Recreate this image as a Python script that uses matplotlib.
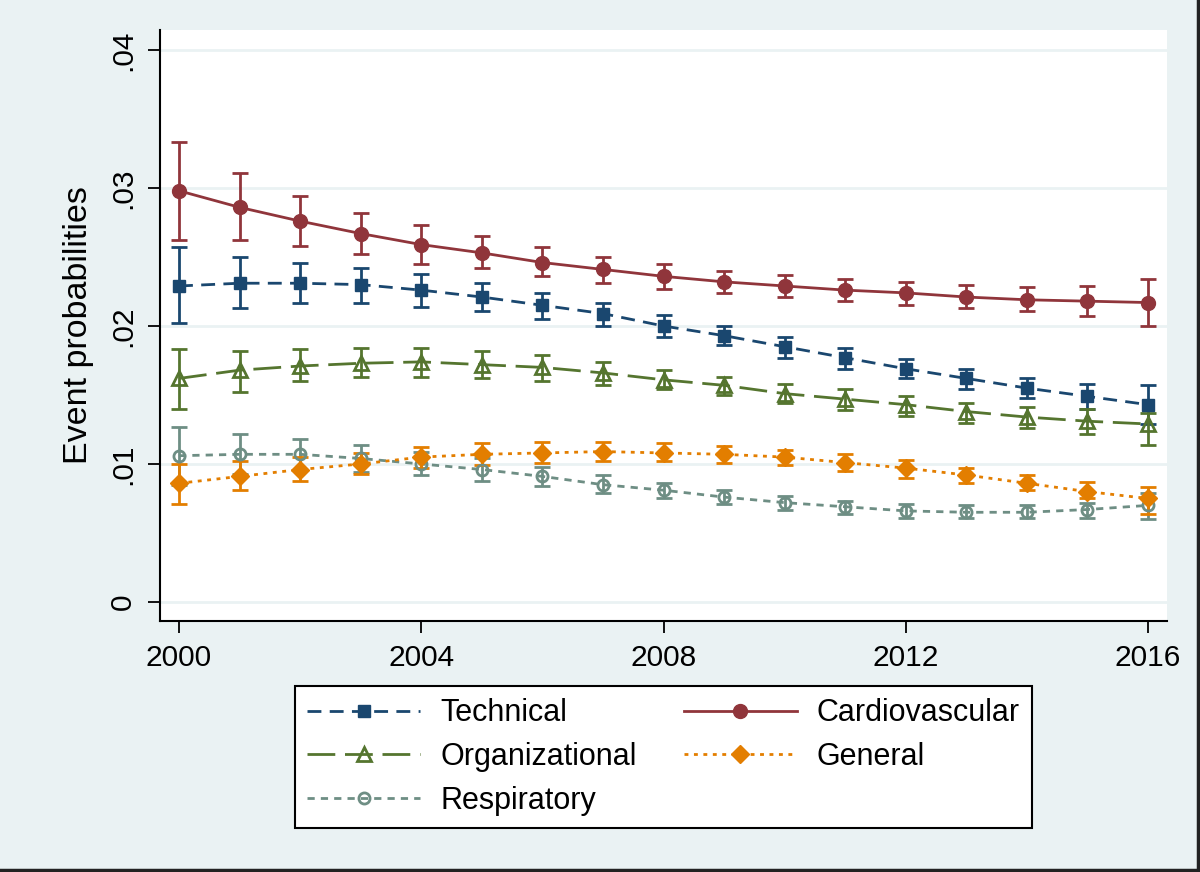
#!/usr/bin/env python3
"""
Predicted event probabilities by year (2000-2016) with 95% CIs,
five event categories, Stata s2color look.
"""
import numpy as np
import matplotlib
matplotlib.use("Agg")
import matplotlib.pyplot as plt
from matplotlib.lines import Line2D

years = list(range(2000, 2017))

cardio    = [0.0298, 0.0286, 0.0276, 0.0267, 0.0259, 0.0253, 0.0246, 0.0241, 0.0236,
             0.0232, 0.0229, 0.0226, 0.0224, 0.0221, 0.0219, 0.0218, 0.0217]
cardio_lo = [0.0262, 0.0262, 0.0258, 0.0252, 0.0245, 0.0242, 0.0236, 0.0231, 0.0227,
             0.0224, 0.0221, 0.0218, 0.0215, 0.0213, 0.0211, 0.0207, 0.0200]
cardio_hi = [0.0333, 0.0311, 0.0294, 0.0282, 0.0273, 0.0265, 0.0257, 0.0250, 0.0245,
             0.0240, 0.0237, 0.0234, 0.0232, 0.0230, 0.0228, 0.0229, 0.0234]

tech    = [0.0229, 0.0231, 0.0231, 0.0230, 0.0226, 0.0221, 0.0215, 0.0209, 0.0200,
           0.0193, 0.0185, 0.0177, 0.0169, 0.0162, 0.0155, 0.0149, 0.0143]
tech_lo = [0.0202, 0.0213, 0.0217, 0.0217, 0.0214, 0.0211, 0.0205, 0.0200, 0.0192,
           0.0186, 0.0177, 0.0169, 0.0162, 0.0154, 0.0148, 0.0140, 0.0129]
tech_hi = [0.0257, 0.0250, 0.0246, 0.0242, 0.0238, 0.0231, 0.0224, 0.0217, 0.0208,
           0.0200, 0.0192, 0.0184, 0.0176, 0.0169, 0.0162, 0.0158, 0.0157]

org    = [0.0162, 0.0168, 0.0171, 0.0173, 0.0174, 0.0172, 0.0170, 0.0166, 0.0161,
          0.0157, 0.0151, 0.0147, 0.0143, 0.0138, 0.0134, 0.0131, 0.0129]
org_lo = [0.0140, 0.0152, 0.0160, 0.0163, 0.0163, 0.0162, 0.0160, 0.0157, 0.0154,
          0.0150, 0.0144, 0.0139, 0.0135, 0.0130, 0.0126, 0.0122, 0.0114]
org_hi = [0.0183, 0.0182, 0.0183, 0.0184, 0.0184, 0.0182, 0.0179, 0.0174, 0.0168,
          0.0163, 0.0158, 0.0154, 0.0149, 0.0144, 0.0141, 0.0140, 0.0137]

gen    = [0.0086, 0.0091, 0.0096, 0.0100, 0.0105, 0.0107, 0.0108, 0.0109, 0.0108,
          0.0107, 0.0105, 0.0101, 0.0097, 0.0092, 0.0086, 0.0080, 0.0075]
gen_lo = [0.0071, 0.0081, 0.0088, 0.0093, 0.0097, 0.0099, 0.0101, 0.0102, 0.0102,
          0.0101, 0.0099, 0.0095, 0.0090, 0.0086, 0.0081, 0.0075, 0.0064]
gen_hi = [0.0100, 0.0102, 0.0105, 0.0108, 0.0112, 0.0115, 0.0116, 0.0116, 0.0115,
          0.0113, 0.0110, 0.0107, 0.0103, 0.0097, 0.0092, 0.0087, 0.0083]

resp    = [0.0106, 0.0107, 0.0107, 0.0104, 0.0100, 0.0096, 0.0091, 0.0085, 0.0081,
           0.0076, 0.0072, 0.0069, 0.0066, 0.0065, 0.0065, 0.0067, 0.0070]
resp_lo = [0.0085, 0.0093, 0.0096, 0.0094, 0.0092, 0.0088, 0.0084, 0.0079, 0.0075,
           0.0071, 0.0067, 0.0064, 0.0061, 0.0061, 0.0061, 0.0061, 0.0060]
resp_hi = [0.0127, 0.0122, 0.0118, 0.0114, 0.0109, 0.0104, 0.0098, 0.0092, 0.0086,
           0.0081, 0.0077, 0.0073, 0.0071, 0.0070, 0.0070, 0.0072, 0.0079]

yticks = [0.0, 0.01, 0.02, 0.03, 0.04]
ytick_labels = ["0", ".01", ".02", ".03", ".04"]
xticks = [2000, 2004, 2008, 2012, 2016]

BG = "#EAF2F3"

# label, values, lo, hi, color, marker, marker size, hollow, dash pattern
series = [
    ("Technical",      tech,   tech_lo,   tech_hi,   "#1A476F", "s", 9.0,  False, (0, (5, 3))),
    ("Organizational", org,    org_lo,    org_hi,    "#55752F", "^", 10.5, True,  (0, (10, 3.5))),
    ("Respiratory",    resp,   resp_lo,   resp_hi,   "#6E8E84", "o", 8.0,  True,  (0, (2.6, 2.2))),
    ("Cardiovascular", cardio, cardio_lo, cardio_hi, "#90353B", "o", 10.0, False, "-"),
    ("General",        gen,    gen_lo,    gen_hi,    "#E37E00", "D", 9.0,  False, (0, (1.4, 2.0))),
]


def main():
    plt.rcParams["font.family"] = ["Liberation Sans", "DejaVu Sans"]
    fig = plt.figure(figsize=(12, 8.72), dpi=100, facecolor=BG)
    ax = fig.add_axes([160 / 1200, 1 - 621 / 872, 1007 / 1200, 591 / 872])
    ax.set_facecolor("white")

    x = np.array(years)
    handles = []
    for lbl, v, lo, hi, col, mk, ms, hollow, ls in series:
        v, lo, hi = np.array(v), np.array(lo), np.array(hi)
        ax.errorbar(x, v, yerr=[v - lo, hi - v], fmt="none", ecolor=col,
                    elinewidth=2.0, capsize=5.5, capthick=2.0, zorder=3)
        h, = ax.plot(x, v, color=col, lw=2.0, ls=ls, marker=mk, ms=ms,
                     mfc="none" if hollow else col, mec=col, mew=2.0 if hollow else 1.0,
                     label=lbl, zorder=4)
        handles.append(h)

    ax.set_xlim(2000 - 19 / 60.56, 2016 + 19 / 60.56)
    ax.set_ylim(-19 / 13775, 0.04 + 20 / 13775)
    ax.set_xticks(xticks)
    ax.set_yticks(yticks)
    ax.set_yticklabels(ytick_labels, rotation=90, va="center")
    ax.tick_params(axis="both", direction="out", length=8.5, width=1.3,
                   labelsize=21.5, colors="black", pad=8)
    ax.grid(axis="y", color=BG, lw=2.0, zorder=0)
    ax.set_axisbelow(True)
    for s in ("top", "right"):
        ax.spines[s].set_visible(False)
    for s in ("left", "bottom"):
        ax.spines[s].set_linewidth(1.5)
    ax.set_ylabel("Event probabilities", fontsize=24.5, labelpad=11)

    leg = fig.legend(handles=handles, loc="lower left", ncol=2, mode="expand",
                     bbox_to_anchor=(295 / 1200, 1 - 828 / 872, 737 / 1200, 138 / 872),
                     borderaxespad=0, fontsize=22, frameon=True, fancybox=False,
                     edgecolor="black", framealpha=1.0, handlelength=3.7,
                     handletextpad=0.65, labelspacing=0.45, borderpad=0.4,
                     numpoints=1)
    leg.get_frame().set_linewidth(1.5)

    # dark border on right and bottom edges of the exported graph
    fig.add_artist(Line2D([0, 1], [0.002, 0.002], transform=fig.transFigure, color="#222222", lw=2.5))
    fig.add_artist(Line2D([0.998, 0.998], [0, 1], transform=fig.transFigure, color="#222222", lw=2.5))

    fig.savefig("out.png", dpi=100, facecolor=BG)
    print("wrote out.png")


if __name__ == "__main__":
    main()
